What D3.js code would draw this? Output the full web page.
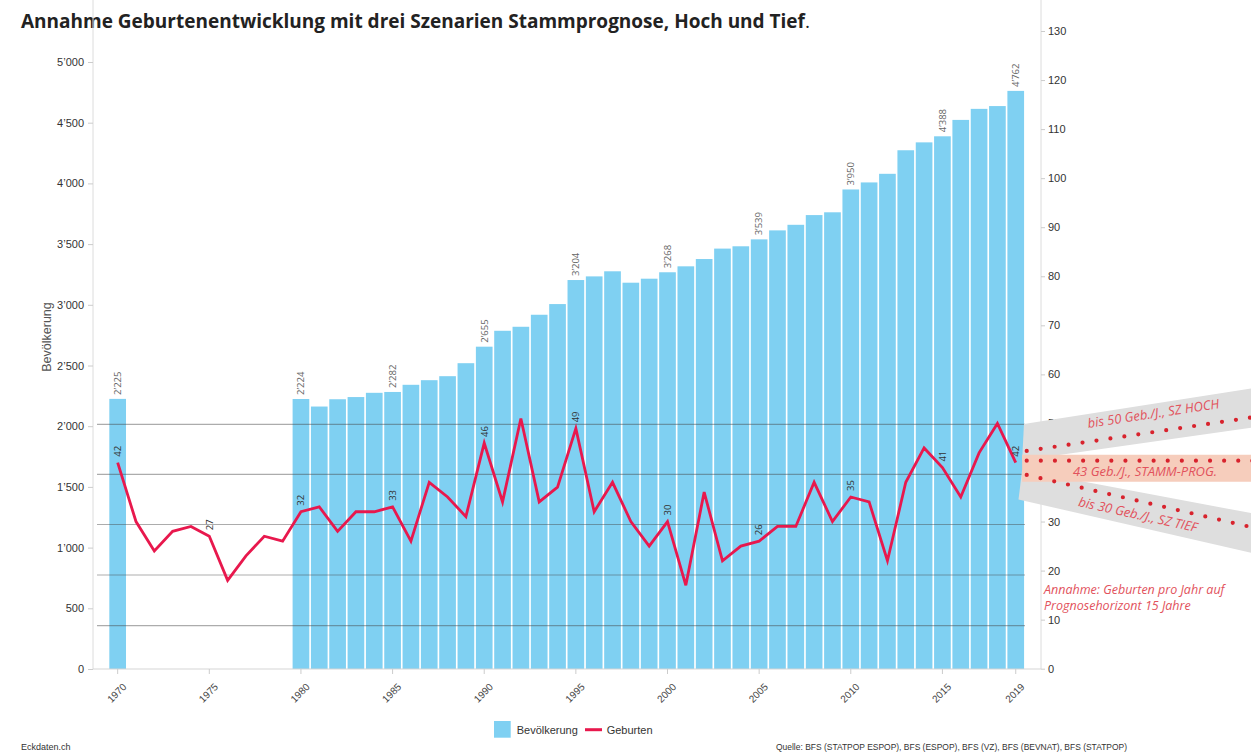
<!DOCTYPE html>
<html>
<head>
  <meta charset="UTF-8">
  <style>
    body { margin: 0; background: #fff; }
    svg { display: block; font-family: "Liberation Sans", Arial, sans-serif; }
  </style>
</head>
<body>
<svg></svg>
<script src="https://d3js.org/d3.v7.min.js"></script>

<script>

let width = 1251, height = 752;

// Bevölkerung (bars) - 1971-1979 fehlen
const popYears = [1970, 1980, 1981, 1982, 1983, 1984, 1985, 1986, 1987, 1988, 1989,
  1990, 1991, 1992, 1993, 1994, 1995, 1996, 1997, 1998, 1999,
  2000, 2001, 2002, 2003, 2004, 2005, 2006, 2007, 2008, 2009,
  2010, 2011, 2012, 2013, 2014, 2015, 2016, 2017, 2018, 2019];
const population = [2225, 2224, 2162, 2222, 2240, 2275, 2282, 2341, 2379, 2412, 2519,
  2655, 2786, 2819, 2918, 3006, 3204, 3234, 3276, 3182, 3215,
  3268, 3317, 3377, 3463, 3482, 3539, 3613, 3659, 3739, 3762,
  3950, 4008, 4079, 4273, 4338, 4388, 4523, 4614, 4637, 4762];

// Geburten (line) 1970-2019
const birthYears = d3.range(1970, 2020);
const births = [42, 30, 24, 28, 29, 27, 18, 23, 27, 26,
  32, 33, 28, 32, 32, 33, 26, 38, 35, 31,
  46, 34, 51, 34, 37, 49, 32, 38, 30, 25,
  30, 17, 36, 22, 25, 26, 29, 29, 38, 30,
  35, 34, 22, 38, 45, 41, 35, 44, 50, 42];

const labelYears = [1970, 1975, 1980, 1985, 1990, 1995, 2000, 2005, 2010, 2015, 2019];
const leftTicks = d3.range(0, 5001, 500);
const rightTicks = d3.range(0, 131, 10);
const gridValues = [49.8, 39.6, 29.4, 19.1, 8.8];

// Szenarien (Jahr, Geburten pro Jahr)
const scenYears = [2019.6, 2034];
const hoch = [44.4, 52.4];
const stamm = [42.4, 42.4];
const tief = [39.5, 27.0];
const hochBand = [[2019.45, 49.9], [2032, 57.2], [2032, 49.2], [2019.35, 42.5]];
const stammBand = [[2019.35, 43.6], [2032, 43.6], [2032, 38.1], [2019.35, 38.1]];
const tiefBand = [[2019.35, 40.5], [2032, 31.6], [2032, 23.5], [2019.15, 34.5]];

const barColor = "#7fd0f2", lineColor = "#e8184d", noteColor = "#e2525c", dotColor = "#d8232d";

let svg = d3.select("svg")
    .attr("width", width)
    .attr("height", height)
    .attr("viewBox", "0 0 " + width + " " + height);

const axisLeftX = 93, axisRightX = 1041, baseY = 669;

let x = d3.scaleBand()
    .domain(birthYears)
    .range([108.5, 1024.9])
    .paddingInner(0.09)
    .paddingOuter(0.045);
let xc = d => x(d) + x.bandwidth() / 2;

// linear version of x for the projection beyond 2019
let xp = d3.scaleLinear().domain([1970, 2019]).range([xc(1970), xc(2019)]);

let yL = d3.scaleLinear().domain([0, 5000]).range([baseY, 62]);
let yR = d3.scaleLinear().domain([0, 130]).range([668.7, 31]);

const fmt = v => d3.format(",")(v).replace(/,/g, "\u2019");

// title
let title = svg.append("text")
    .attr("x", 21).attr("y", 28)
    .style("font-family", "'Open Sans', sans-serif")
    .style("font-size", "19px")
    .style("fill", "#222");
title.append("tspan").style("font-weight", "bold")
    .text("Annahme Geburtenentwicklung mit drei Szenarien Stammprognose, Hoch und Tief");
title.append("tspan").text(".");

// bars
svg.append("g").selectAll("rect")
    .data(popYears)
    .enter().append("rect")
    .attr("x", d => x(d))
    .attr("width", x.bandwidth())
    .attr("y", (d, i) => yL(population[i]))
    .attr("height", (d, i) => baseY - yL(population[i]))
    .style("fill", barColor);

// grid lines (over the bars)
svg.append("g").selectAll("line")
    .data(gridValues)
    .enter().append("line")
    .attr("x1", 97).attr("x2", 1025)
    .attr("y1", d => yR(d)).attr("y2", d => yR(d))
    .style("stroke", "rgba(70,70,70,0.45)")
    .style("stroke-width", "1.2px");

// left axis
svg.append("line")
    .attr("x1", axisLeftX).attr("x2", axisLeftX).attr("y1", 0).attr("y2", baseY)
    .style("stroke", "#dcdcdc");
let gl = svg.append("g")
    .attr("transform", "translate(" + axisLeftX + ",0)")
    .call(d3.axisLeft(yL).tickValues(leftTicks).tickSize(5).tickPadding(4).tickFormat(fmt));
gl.select(".domain").remove();
gl.selectAll(".tick line").style("stroke", "#ccc");
gl.selectAll(".tick text").style("font-size", "11px").style("fill", "#333")
    .style("font-family", "'Liberation Sans', Arial, sans-serif");

svg.append("text")
    .attr("transform", "translate(51,337) rotate(-90)")
    .attr("text-anchor", "middle")
    .style("font-size", "12.5px").style("fill", "#555")
    .text("Bevölkerung");

// right axis
svg.append("line")
    .attr("x1", axisRightX).attr("x2", axisRightX).attr("y1", 0).attr("y2", baseY)
    .style("stroke", "#dcdcdc");
let gr = svg.append("g")
    .attr("transform", "translate(" + axisRightX + ",0)")
    .call(d3.axisRight(yR).tickValues(rightTicks).tickSize(4).tickPadding(3));
gr.select(".domain").remove();
gr.selectAll(".tick line").style("stroke", "#ccc");
gr.selectAll(".tick text").style("font-size", "11px").style("fill", "#333")
    .style("font-family", "'Liberation Sans', Arial, sans-serif");

// x axis
svg.append("line")
    .attr("x1", axisLeftX).attr("x2", axisRightX).attr("y1", baseY).attr("y2", baseY)
    .style("stroke", "#d5d5d5");
let gx = svg.append("g")
    .attr("transform", "translate(0," + baseY + ")")
    .call(d3.axisBottom(x).tickValues(labelYears).tickSize(5).tickSizeOuter(0));
gx.select(".domain").remove();
gx.selectAll(".tick line").style("stroke", "#ccc");
gx.selectAll(".tick text")
    .attr("text-anchor", "end")
    .attr("x", 0).attr("y", 0)
    .attr("transform", "translate(7,16) rotate(-45)")
    .attr("dy", "0.35em")
    .style("font-size", "10px").style("fill", "#444")
    .style("font-family", "'Liberation Sans', Arial, sans-serif");

// bar labels
svg.append("g").selectAll("text")
    .data(popYears.filter(d => labelYears.includes(d)))
    .enter().append("text")
    .attr("transform", d => "translate(" + xc(d) + "," + (yL(population[popYears.indexOf(d)]) - 4) + ") rotate(-90)")
    .attr("dy", "0.35em")
    .style("font-family", "'Open Sans', sans-serif")
    .style("font-size", "9.5px").style("fill", "#666")
    .text(d => fmt(population[popYears.indexOf(d)]));

// births line
let line = d3.line()
    .x(d => xc(d))
    .y((d, i) => yR(births[i]));
svg.append("path")
    .datum(birthYears)
    .attr("d", line)
    .style("fill", "none")
    .style("stroke", lineColor)
    .style("stroke-width", "2.8px")
    .style("stroke-linejoin", "miter");

svg.append("g").selectAll("text")
    .data(labelYears)
    .enter().append("text")
    .attr("transform", d => "translate(" + xc(d) + "," + (yR(births[birthYears.indexOf(d)]) - 6) + ") rotate(-90)")
    .attr("dy", "0.35em")
    .style("font-family", "'Open Sans', sans-serif")
    .style("font-size", "9.5px").style("fill", "#333")
    .text(d => births[birthYears.indexOf(d)]);

// scenario bands
let poly = pts => pts.map(p => xp(p[0]) + "," + yR(p[1])).join(" ");
svg.append("polygon").attr("points", poly(hochBand)).style("fill", "#dedede");
svg.append("polygon").attr("points", poly(tiefBand)).style("fill", "#dedede");
svg.append("polygon").attr("points", poly(stammBand)).style("fill", "#f6cdbc");

let dotted = vals => d3.line()([[xp(scenYears[0]), yR(vals[0])], [xp(scenYears[1]), yR(vals[1])]]);
[hoch, stamm, tief].forEach(vals => {
  svg.append("path")
    .attr("d", dotted(vals))
    .style("fill", "none")
    .style("stroke", dotColor)
    .style("stroke-width", "4.2px")
    .style("stroke-linecap", "round")
    .style("stroke-dasharray", "0,14.1");
});

let noteStyle = sel => sel
    .style("font-family", "'Open Sans', sans-serif")
    .style("font-style", "italic")
    .style("font-size", "12.5px")
    .style("fill", noteColor);

svg.append("text").call(noteStyle)
    .attr("text-anchor", "middle")
    .attr("transform", "translate(1154,418) rotate(-8.6)")
    .style("font-size", "13px")
    .text("bis 50 Geb./J., SZ HOCH");
svg.append("text").call(noteStyle)
    .attr("text-anchor", "middle")
    .attr("transform", "translate(1145,476)")
    .style("font-size", "13px")
    .text("43 Geb./J., STAMM-PROG.");
svg.append("text").call(noteStyle)
    .attr("text-anchor", "middle")
    .attr("transform", "translate(1137,519) rotate(12.5)")
    .style("font-size", "13px")
    .text("bis 30 Geb./J., SZ TIEF");

svg.append("text").call(noteStyle)
    .attr("x", 1044).attr("y", 594)
    .text("Annahme: Geburten pro Jahr auf");
svg.append("text").call(noteStyle)
    .attr("x", 1044).attr("y", 610)
    .text("Prognosehorizont 15 Jahre");

// legend
let lg = svg.append("g").style("font-size", "11px").style("fill", "#333");
lg.append("rect").attr("x", 494).attr("y", 721).attr("width", 16.7).attr("height", 16.7).style("fill", barColor);
lg.append("text").attr("x", 516.7).attr("y", 733.5).text("Bevölkerung");
lg.append("line").attr("x1", 585).attr("x2", 602).attr("y1", 729.7).attr("y2", 729.7)
    .style("stroke", lineColor).style("stroke-width", "3px");
lg.append("text").attr("x", 606.7).attr("y", 733.5).text("Geburten");

// footer
svg.append("text").attr("x", 21).attr("y", 750)
    .style("font-size", "9px").style("fill", "#333")
    .text("Eckdaten.ch");
svg.append("text").attr("x", 776).attr("y", 750)
    .attr("textLength", 351).attr("lengthAdjust", "spacingAndGlyphs")
    .style("font-size", "9px").style("fill", "#333")
    .text("Quelle: BFS (STATPOP ESPOP), BFS (ESPOP), BFS (VZ), BFS (BEVNAT), BFS (STATPOP)");

</script>

</body>
</html>
